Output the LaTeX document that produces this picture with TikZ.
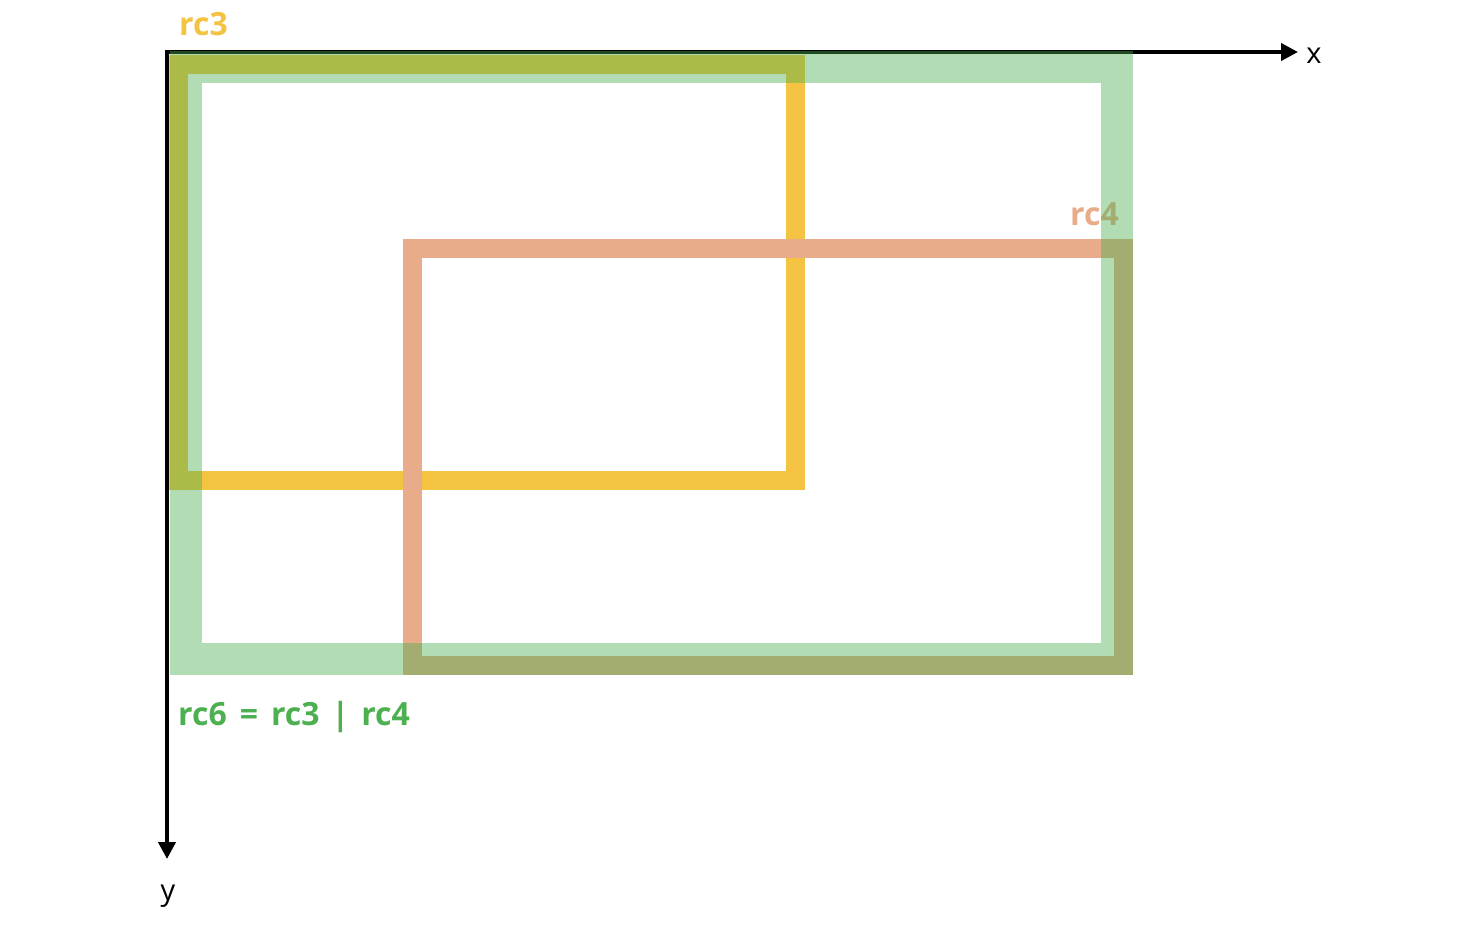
\documentclass[tikz,border=0pt]{standalone}
\usepackage{fontspec}
\setmainfont{Open Sans}
\usetikzlibrary{arrows.meta}
\definecolor{cgreen}{RGB}{76,175,80}
\definecolor{cyellow}{RGB}{245,195,66}
\definecolor{corange}{RGB}{232,172,138}
\tikzset{
  axis/.style={line width=4pt,-{Triangle[length=17pt,width=17pt]}},
  lbl/.style={font=\fontsize{32}{32}\selectfont\bfseries,inner sep=0pt},
  axlbl/.style={font=\fontsize{29}{29}\selectfont,inner sep=0pt},
  rcbox/.style={line width=19pt,line join=miter},
  unionbox/.style={line width=32pt,draw=cgreen,draw opacity=0.43,line join=miter}
}
\begin{document}
\begin{tikzpicture}[x=1pt,y=-1pt]
\useasboundingbox (0,0) rectangle (1476,928);
% axes
\coordinate (O) at (167,52);
\coordinate (xend) at (1298,52);
\coordinate (yend) at (167,859);
\draw[axis] ([xshift=-2pt]O) -- (xend);
\draw[axis] (O) -- (yend);
\node[axlbl,anchor=base] (xl) at (1314,64) {x};
\node[axlbl,anchor=base] (yl) at (168,900) {y};
% rc3
\draw[rcbox,draw=cyellow] (178.5,64.5) rectangle (795.5,480.5);
% rc4
\draw[rcbox,draw=corange] (412.5,248.5) rectangle (1123.5,665.5);
% labels
\node[lbl,text=cyellow,anchor=base west] (l3) at (179,36) {rc3};
\node[lbl,text=corange,anchor=base west] (l4) at (1070,226) {rc4};
\node[lbl,text=cgreen,anchor=base west] (l6) at (178,725)
  {rc6\hspace{13pt}=\hspace{13pt}rc3\hspace{12pt}|\hspace{12pt}rc4};
% rc6 union
\draw[unionbox] (186,67) rectangle (1117,659);
\end{tikzpicture}
\end{document}
